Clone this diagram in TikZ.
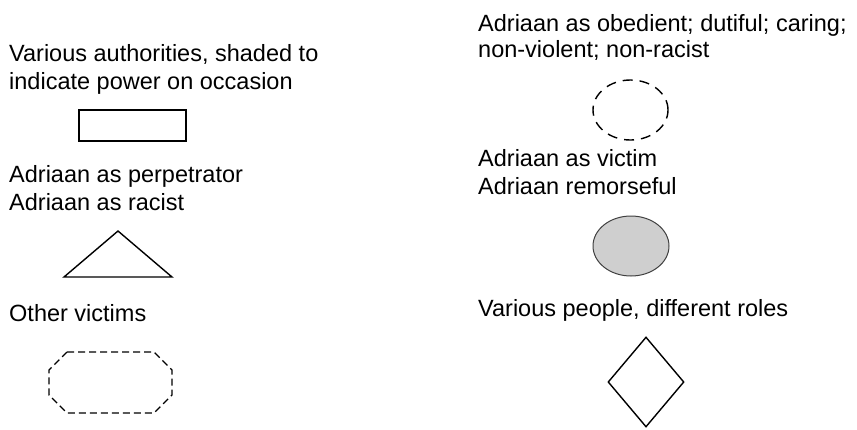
\documentclass[tikz,border=0pt]{standalone}
\usepackage{fontspec}
\setmainfont{Liberation Sans}
\usetikzlibrary{shapes.geometric}
\begin{document}
\begin{tikzpicture}[x=1pt,y=-1pt,
  lbl/.style={anchor=base west, inner sep=0pt, font=\fontsize{23.5}{28}\selectfont},
  shp/.style={draw=black, line width=1.4pt, inner sep=0pt},
  dsh/.style={draw=black, line width=1.4pt, dash pattern=on 7pt off 4pt}]
\useasboundingbox (0,0) rectangle (857,429);
% left column
\node[lbl] (t1a) at (9,61) {Various authorities, shaded to};
\node[lbl] (t1b) at (9,89) {indicate power on occasion};
\node[shp, rectangle, minimum width=107pt, minimum height=31pt] (auth) at (132.5,125.5) {};
\node[lbl] (t2a) at (9,182) {Adriaan as perpetrator};
\node[lbl] (t2b) at (9,210) {Adriaan as racist};
\draw[line width=1.4pt, line join=miter] (64,277) -- (118,231) -- (172,277) -- cycle;
\node[lbl] (t3) at (9,321) {Other victims};
\draw[dsh] (67,352) -- (154,352) -- (172,370) -- (172,395) -- (154,413) -- (67,413) -- (49,395) -- (49,370) -- cycle;
% right column
\node[lbl] (r1a) at (478,31) {Adriaan as obedient; dutiful; caring;};
\node[lbl] (r1b) at (478,57) {non-violent; non-racist};
\node[draw=black, line width=1.4pt, dash pattern=on 10pt off 7pt, ellipse, minimum width=75pt, minimum height=60pt, inner sep=0pt] (obed) at (630.5,110) {};
\node[lbl] (r2a) at (478,166) {Adriaan as victim};
\node[lbl] (r2b) at (478,194) {Adriaan remorseful};
\node[draw=black!75, line width=1pt, fill=black!19, ellipse, minimum width=76pt, minimum height=60pt, inner sep=0pt] (vict) at (631,246) {};
\node[lbl] (r3) at (478,316) {Various people, different roles};
\node[shp, diamond, minimum width=76pt, minimum height=90pt, aspect=0.85] (ppl) at (646,382) {};
\end{tikzpicture}
\end{document}
